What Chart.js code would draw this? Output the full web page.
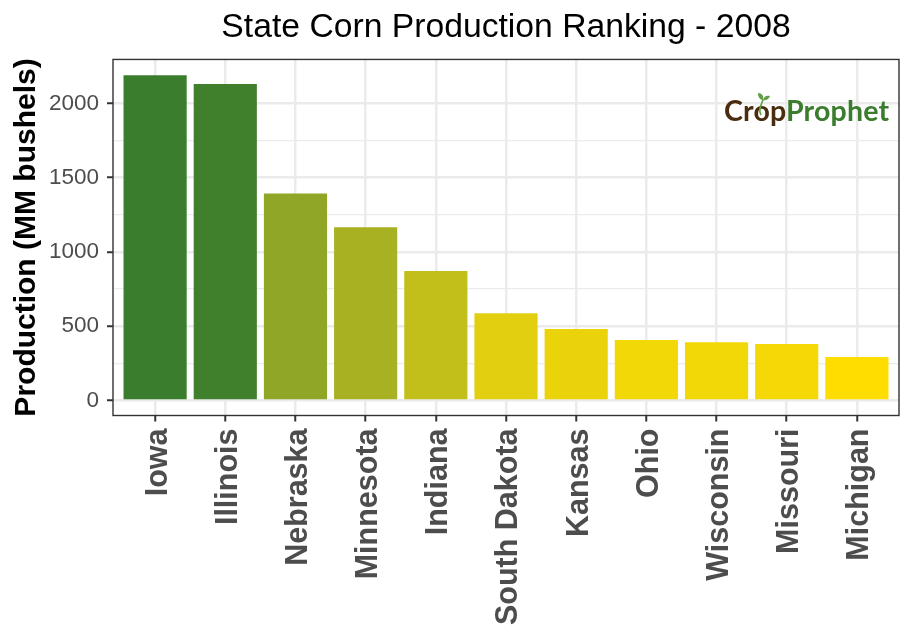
<!DOCTYPE html>
<html>
<head>
<meta charset="utf-8">
<script src="https://cdn.jsdelivr.net/npm/chart.js@4"></script>
<style>
body { margin: 0; background: #fff; }
#wrap { position: relative; width: 914px; height: 640px; }
#logo { position: absolute; left: 724px; top: 93px; font: bold 28.5px "Lato", sans-serif; letter-spacing: 0.2px; color: #3a7d2c; line-height: 34px; white-space: nowrap; }
#logo span { color: #4a2c0f; }
#sprout { position: absolute; left: 752px; top: 91px; }
</style>
</head>
<body>
<div id="wrap">
<canvas id="chart" width="914" height="640"></canvas>
<div id="logo"><span>Crop</span>Prophet</div>
<svg id="sprout" width="22" height="26"><path d="M9 24 C6 20 9 14 11 9" stroke="#5f9e45" stroke-width="1.6" fill="none"/><path d="M11 9 C8 9 6 6 6 2 C10 2 12 5 11 9Z M11 9 C12 5 15 4 18 5 C17 8 14 10 11 9Z" fill="#5f9e45"/></svg>
</div>
<script>
var states = ["Iowa", "Illinois", "Nebraska", "Minnesota", "Indiana", "South Dakota", "Kansas", "Ohio", "Wisconsin", "Missouri", "Michigan"];
var production = [2189, 2130, 1394, 1167, 872, 587, 482, 408, 392, 380, 293];
var barColors = ["#3A7D2C", "#407F2C", "#90A626", "#A8B121", "#C2BF1B", "#E2CF10", "#EBD30B", "#F3D808", "#F3D807", "#F4D906", "#FFDD00"];
var positions = states.map(function (s, i) { return i + 1; });
var yTicks = [0, 250, 500, 750, 1000, 1250, 1500, 1750, 2000];

var ctx = document.getElementById("chart").getContext("2d");

var chart = new Chart(ctx, {
    type: 'bar',
    data: {
        datasets: [{
            data: positions.map(function (p, i) { return { x: p, y: production[i] }; }),
            backgroundColor: barColors,
            borderWidth: 0,
            categoryPercentage: 0.9,
            barPercentage: 1
        }]
    },
    options: {
        responsive: false,
        animation: false,
        layout: { padding: { top: 7, right: 15, left: 0, bottom: 0 } },
        plugins: {
            legend: { display: false },
            tooltip: { enabled: false },
            title: {
                display: true,
                fullSize: false,
                text: "State Corn Production Ranking - 2008",
                color: '#000',
                font: { family: 'Liberation Sans', size: 33.7, weight: 'normal' },
                padding: { top: 0, bottom: 12 }
            }
        },
        scales: {
            x: {
                type: 'linear',
                min: 0.4,
                max: 11.6,
                offset: false,
                afterBuildTicks: function (scale) {
                    scale.ticks = positions.map(function (p) { return { value: p }; });
                },
                afterFit: function (scale) { scale.height = 224.5; },
                grid: { offset: false, color: '#ebebeb', lineWidth: 2.5, tickColor: '#333', tickLength: 6, tickWidth: 2 },
                border: { display: false },
                ticks: {
                    autoSkip: false,
                    minRotation: 90,
                    maxRotation: 90,
                    color: '#4d4d4d',
                    padding: 7,
                    labelOffset: 3,
                    font: { family: 'Liberation Sans', size: 30.5, weight: 'bold' },
                    callback: function (v) { return states[v - 1]; }
                }
            },
            y: {
                min: -101,
                max: 2296,
                afterBuildTicks: function (scale) {
                    scale.ticks = yTicks.map(function (v) { return { value: v }; });
                },
                afterFit: function (scale) { scale.width = 113; },
                grid: {
                    color: '#ebebeb',
                    lineWidth: function (c) { return c.tick && c.tick.value % 500 === 0 ? 2.5 : 1.2; },
                    tickColor: function (c) { return c.tick && c.tick.value % 500 === 0 ? '#333' : 'rgba(0,0,0,0)'; },
                    tickLength: 6,
                    tickWidth: 2
                },
                border: { display: false },
                title: {
                    display: true,
                    text: "Production (MM bushels)",
                    color: '#000',
                    font: { family: 'Liberation Sans', size: 30, weight: 'bold' },
                    padding: { top: 9, bottom: 0 }
                },
                ticks: {
                    color: '#4d4d4d',
                    padding: 8,
                    font: { family: 'Liberation Sans', size: 22.5 },
                    callback: function (v) { return v % 500 === 0 ? String(v) : ''; }
                }
            }
        }
    },
    plugins: [{
        id: 'panelBorder',
        afterDraw: function (c) {
            var a = c.chartArea;
            c.ctx.save();
            c.ctx.strokeStyle = '#333';
            c.ctx.lineWidth = 1.4;
            c.ctx.strokeRect(a.left, a.top, a.right - a.left, a.bottom - a.top);
            c.ctx.restore();
        }
    }]
});
</script>
</body>
</html>
